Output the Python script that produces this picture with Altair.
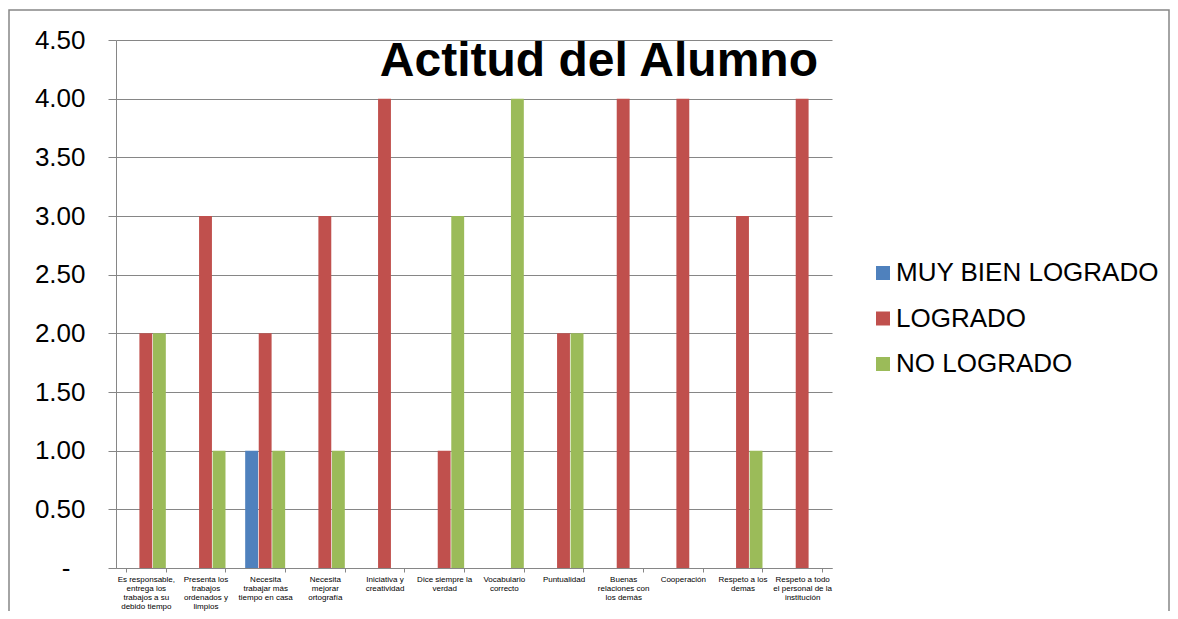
import altair as alt
import pandas as pd

categories = [
    "Es responsable,\nentrega los\ntrabajos a su\ndebido tiempo",
    "Presenta los\ntrabajos\nordenados y\nlimpios",
    "Necesita\ntrabajar más\ntiempo en casa",
    "Necesita\nmejorar\nortografía",
    "Iniciativa y\ncreatividad",
    "Dice siempre la\nverdad",
    "Vocabulario\ncorrecto",
    "Puntualidad",
    "Buenas\nrelaciones con\nlos demás",
    "Cooperación",
    "Respeto a los\ndemas",
    "Respeto a todo\nel personal de la\ninstitución",
]
series = ["MUY BIEN LOGRADO", "LOGRADO", "NO LOGRADO"]
muy_bien_logrado = [0, 0, 1, 0, 0, 0, 0, 0, 0, 0, 0, 0]
logrado = [2, 3, 2, 3, 4, 1, 0, 2, 4, 4, 3, 4]
no_logrado = [2, 1, 1, 1, 0, 3, 4, 2, 0, 0, 1, 0]
colors = ["#4F81BD", "#C0504D", "#9BBB59"]
y_ticks = [0, 0.5, 1, 1.5, 2, 2.5, 3, 3.5, 4, 4.5]
title_text = "Actitud del Alumno"

rows = []
for s, vals in zip(series, [muy_bien_logrado, logrado, no_logrado]):
    for c, v in zip(categories, vals):
        rows.append({"categoria": c, "serie": s, "valor": v})
df = pd.DataFrame(rows)

FONT = "Liberation Sans"
GREY = "#868686"

bars = alt.Chart(df).mark_bar().encode(
    x=alt.X(
        "categoria:N",
        sort=categories,
        scale=alt.Scale(paddingInner=0.33, paddingOuter=0.165),
        axis=alt.Axis(
            title=None,
            labelAngle=0,
            labelExpr="split(datum.label, '\\n')",
            labelFontSize=8,
            labelLineHeight=9,
            labelBaseline="top",
            labelPadding=3,
            labelFont=FONT,
            labelColor="#000000",
            labelOverlap=False,
            labelBound=False,
            tickBand="extent",
            tickSize=4,
            tickColor=GREY,
            domainColor=GREY,
            grid=False,
        ),
    ),
    xOffset=alt.XOffset("serie:N", sort=series, scale=alt.Scale(domain=series, paddingInner=0.05)),
    y=alt.Y(
        "valor:Q",
        scale=alt.Scale(domain=[0, 4.5], nice=False),
        axis=alt.Axis(
            title=None,
            values=y_ticks,
            labelExpr="datum.value == 0 ? '-' : format(datum.value, '.2f')",
            labelFontSize=26,
            labelFont=FONT,
            labelColor="#000000",
            labelPadding={"condition": {"test": "datum.value == 0", "value": 38}, "value": 23},
            tickSize=8,
            tickColor=GREY,
            domainColor=GREY,
            gridColor=GREY,
            gridWidth=1.2,
        ),
    ),
    color=alt.Color(
        "serie:N",
        sort=series,
        scale=alt.Scale(domain=series, range=colors),
        legend=alt.Legend(
            title=None,
            orient="none",
            legendX=754,
            legendY=220,
            symbolType="square",
            symbolSize=196,
            symbolStrokeWidth=0,
            labelFontSize=26,
            labelFont=FONT,
            labelColor="#000000",
            labelOffset=0,
            rowPadding=19.5,
            padding=0,
            labelLimit=400,
        ),
    ),
)

frame = alt.Chart(alt.Data(values=[{}])).mark_rect(
    fill="transparent", stroke=GREY, strokeWidth=1.5
).encode(
    x=alt.value(-107), x2=alt.value(1053), y=alt.value(-30), y2=alt.value(600)
)

title = alt.Chart(alt.Data(values=[{"t": title_text}])).mark_text(
    align="right", baseline="alphabetic", fontSize=48, fontWeight="bold",
    font=FONT, color="#000000"
).encode(text="t:N", x=alt.value(702), y=alt.value(36))

chart = alt.layer(frame, bars, title).properties(
    width=716,
    height=528,
    padding={"left": 108, "top": 32, "right": 338, "bottom": 43},
    autosize=alt.AutoSizeParams(type="none"),
).configure_view(stroke=None)

chart.save("out.html", embed_options={"renderer": "svg", "actions": False})
